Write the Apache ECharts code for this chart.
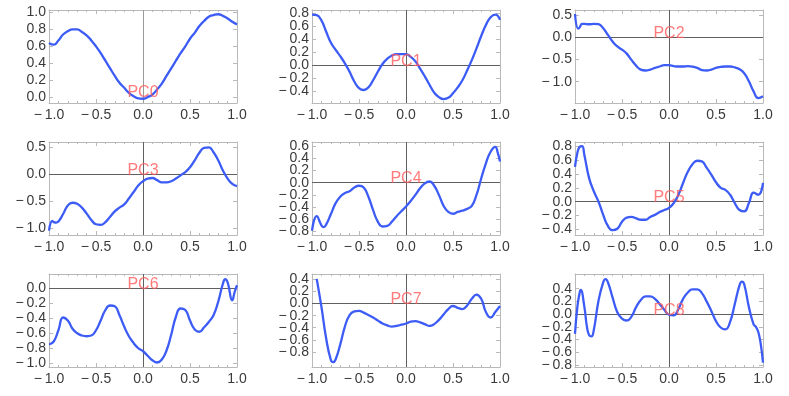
<!DOCTYPE html>
<html>
<head>
<meta charset="utf-8">
<script src="https://cdn.jsdelivr.net/npm/echarts@6/dist/echarts.min.js"></script>
<style>
html,body{margin:0;padding:0;background:#fff;}
#main{width:789px;height:396px;}
</style>
</head>
<body>
<div id="main"></div>
<script>
// x samples shared by all panels
var xs = [-1,-0.95,-0.9,-0.85,-0.8,-0.75,-0.7,-0.65,-0.6,-0.55,-0.5,-0.45,-0.4,-0.35,-0.3,-0.25,-0.2,-0.15,-0.1,-0.05,
  0,0.05,0.1,0.15,0.2,0.25,0.3,0.35,0.4,0.45,0.5,0.55,0.6,0.65,0.7,0.75,0.8,0.85,0.9,0.95,1]

var pc0 = [0.64,0.62,0.67,0.74,0.78,0.80,0.80,0.77,0.73,0.67,0.60,0.52,0.43,0.34,0.25,0.17,0.11,0.05,0.01,-0.015,
  -0.02,0.00,0.03,0.09,0.16,0.25,0.34,0.43,0.52,0.60,0.69,0.76,0.84,0.90,0.95,0.97,0.98,0.96,0.93,0.89,0.86]
var pc1 = [0.78,0.77,0.69,0.52,0.35,0.24,0.14,0.03,-0.10,-0.25,-0.35,-0.38,-0.34,-0.23,-0.10,0.02,0.10,0.15,0.17,0.17,
  0.17,0.13,0.06,-0.05,-0.17,-0.30,-0.42,-0.49,-0.52,-0.50,-0.43,-0.34,-0.23,-0.08,0.08,0.26,0.45,0.62,0.74,0.78,0.70]
var pc2 = [0.52,0.22,0.30,0.29,0.30,0.29,0.20,0.05,-0.10,-0.21,-0.28,-0.37,-0.51,-0.64,-0.73,-0.75,-0.73,-0.69,-0.66,-0.63,
  -0.63,-0.65,-0.66,-0.66,-0.65,-0.66,-0.69,-0.74,-0.75,-0.73,-0.69,-0.67,-0.66,-0.66,-0.68,-0.72,-0.81,-0.99,-1.22,-1.37,-1.33]
var pc3 = [-1.05,-0.89,-0.88,-0.74,-0.58,-0.53,-0.55,-0.62,-0.73,-0.85,-0.93,-0.94,-0.89,-0.79,-0.69,-0.62,-0.56,-0.45,-0.33,-0.21,
  -0.13,-0.08,-0.07,-0.11,-0.15,-0.15,-0.13,-0.08,-0.02,0.04,0.13,0.26,0.40,0.49,0.50,0.41,0.26,0.07,-0.08,-0.18,-0.22]
var pc4 = [-0.79,-0.55,-0.70,-0.69,-0.52,-0.34,-0.23,-0.17,-0.14,-0.08,-0.05,-0.08,-0.23,-0.45,-0.64,-0.72,-0.71,-0.64,-0.55,-0.47,
  -0.39,-0.30,-0.20,-0.09,-0.01,0.02,-0.05,-0.20,-0.38,-0.48,-0.51,-0.48,-0.46,-0.43,-0.38,-0.20,0.07,0.32,0.51,0.59,0.35]
var pc5 = [0.50,0.79,0.67,0.34,0.15,0.00,-0.19,-0.35,-0.41,-0.39,-0.29,-0.23,-0.22,-0.24,-0.26,-0.26,-0.22,-0.19,-0.15,-0.12,
  -0.09,-0.02,0.10,0.27,0.43,0.54,0.59,0.58,0.49,0.39,0.28,0.20,0.17,0.10,-0.02,-0.12,-0.14,-0.02,0.13,0.10,0.27]
var pc6 = [-0.75,-0.71,-0.56,-0.39,-0.43,-0.54,-0.60,-0.63,-0.64,-0.63,-0.56,-0.43,-0.29,-0.23,-0.24,-0.36,-0.51,-0.64,-0.73,-0.80,
  -0.84,-0.90,-0.96,-0.99,-0.95,-0.83,-0.62,-0.38,-0.27,-0.29,-0.43,-0.55,-0.58,-0.52,-0.45,-0.36,-0.18,0.06,0.08,-0.16,0.04]
var pc7 = [null,0.41,-0.05,-0.57,-0.93,-0.93,-0.68,-0.38,-0.19,-0.13,-0.12,-0.15,-0.19,-0.23,-0.28,-0.33,-0.36,-0.38,-0.37,-0.35,
  -0.33,-0.30,-0.29,-0.31,-0.34,-0.37,-0.34,-0.27,-0.18,-0.09,-0.04,-0.07,-0.09,-0.03,0.08,0.15,0.08,-0.14,-0.23,-0.14,-0.04]
var pc8 = [-0.31,0.34,0.11,-0.33,-0.25,0.21,0.50,0.50,0.26,0.03,-0.07,-0.10,-0.04,0.11,0.22,0.28,0.28,0.24,0.16,0.07,
  -0.01,-0.02,0.08,0.24,0.34,0.39,0.39,0.33,0.20,0.05,-0.11,-0.21,-0.24,-0.12,0.16,0.45,0.47,0.11,-0.16,-0.28,-0.76]

// extra samples where the curve bends sharply
var pc2Extra = [[-0.965,0.19],[-0.925,0.30]]
var pc3Extra = [[-0.965,-0.87],[-0.925,-0.90]]
var pc4Extra = [[-0.875,-0.73],[0.975,0.50]]
var pc5Extra = [[-0.975,0.70],[-0.925,0.80]]
var pc6Extra = [[0.875,0.12],[0.975,-0.05]]
var pc7Extra = [[-0.775,-0.97]]
var pc8Extra = [[-0.975,0.11],[-0.94,0.38],[-0.875,-0.18],[-0.825,-0.35],[-0.675,0.55],[0.775,0.51],[0.925,-0.20],[0.975,-0.46]]

var curves = [pc0,pc1,pc2,pc3,pc4,pc5,pc6,pc7,pc8]
var extras = [[],[],pc2Extra,pc3Extra,pc4Extra,pc5Extra,pc6Extra,pc7Extra,pc8Extra]
var names = ['PC0','PC1','PC2','PC3','PC4','PC5','PC6','PC7','PC8']

var yMin = [-0.07,-0.58,-1.48,-1.13,-0.86,-0.48,-1.05,-1.05,-0.83]
var yMax = [1.03,0.85,0.61,0.60,0.67,0.86,0.19,0.49,0.63]
var yTicks = [
  [0,0.2,0.4,0.6,0.8,1.0],
  [-0.4,-0.2,0,0.2,0.4,0.6,0.8],
  [-1.0,-0.5,0,0.5],
  [-1.0,-0.5,0,0.5],
  [-0.8,-0.6,-0.4,-0.2,0,0.2,0.4,0.6],
  [-0.4,-0.2,0,0.2,0.4,0.6,0.8],
  [-1.0,-0.8,-0.6,-0.4,-0.2,0],
  [-0.8,-0.6,-0.4,-0.2,0,0.2,0.4],
  [-0.8,-0.6,-0.4,-0.2,0,0.2,0.4]
]

function fmt(v){
  var s = Math.abs(v).toFixed(1)
  return v < -1e-9 ? '\u2212\u2009' + s : s
}

function points(i){
  var pts = []
  for (var k = 0; k < xs.length; k++) {
    if (curves[i][k] !== null) pts.push([xs[k], curves[i][k]])
  }
  pts = pts.concat(extras[i])
  pts.sort(function(a,b){ return a[0]-b[0] })
  return pts
}

// every other tick value, so crowded labels are split over two axes
function every2(arr, start){
  return arr.filter(function(v, k){ return k % 2 === start })
}

var frameColor = '#b9b9b9'
var labelStyle = {fontSize:14, color:'#3a3a3a', fontFamily:'Liberation Sans'}

var option = {animation:false, grid:[], xAxis:[], yAxis:[], series:[]}

for (var i = 0; i < 9; i++) {
  var r = Math.floor(i/3), c = i % 3
  option.grid.push({left:49+263*c, top:10+132*r, width:188, height:93})

  ;['bottom','top'].forEach(function(pos){
    option.xAxis.push({
      type:'value', gridIndex:i, position:pos, min:-1, max:1, interval:0.5,
      axisLine:{onZero:false, lineStyle:{color:frameColor}},
      axisTick:{inside:true, length:4, lineStyle:{color:frameColor}},
      minorTick:{show:true, splitNumber:5, length:2, lineStyle:{color:frameColor}},
      splitLine:{show:false},
      axisLabel:Object.assign({show:pos==='bottom', margin:5, formatter:fmt, showMinLabel:true, showMaxLabel:true}, labelStyle)
    })
  })
  // left (frame + even labels), right (frame), left again (odd labels only)
  ;[['left',0],['right',-1],['left',1]].forEach(function(p){
    var pos = p[0], part = p[1]
    option.yAxis.push({
      type:'value', gridIndex:i, position:pos, min:yMin[i], max:yMax[i],
      axisLine:{show:part !== 1, onZero:false, lineStyle:{color:frameColor}},
      axisTick:{show:part !== 1, inside:true, length:4, customValues:yTicks[i], lineStyle:{color:frameColor}},
      splitLine:{show:false},
      axisLabel:Object.assign({show:part >= 0, margin:3, customValues:every2(yTicks[i], Math.max(part,0)), formatter:fmt,
        showMinLabel:true, showMaxLabel:true}, labelStyle)
    })
  })

  var zero = [{xAxis:0}]
  if (i > 0) zero.push({yAxis:0})

  option.series.push({
    type:'line', xAxisIndex:2*i, yAxisIndex:3*i, data:points(i), z:2,
    smooth:true, showSymbol:false, clip:true,
    lineStyle:{color:'#3d5cf6', width:2.3},
    markLine:{silent:true, symbol:'none', z:1, label:{show:false},
      lineStyle:{color: i === 0 ? '#9a9a9a' : '#606060', width:1, type:'solid'},
      data:zero}
  })
  option.series.push({
    type:'scatter', xAxisIndex:2*i, yAxisIndex:3*i, data:[[0,0]], z:3, silent:true,
    symbolSize:1, itemStyle:{color:'rgba(0,0,0,0)'},
    label:{show:true, position:'inside', formatter:names[i], offset:[0,-4],
      color:'#ff5a5a', fontSize:16, fontFamily:'Liberation Sans'}
  })
}

var chart = echarts.init(document.getElementById('main'))
option && chart.setOption(option)
</script>
</body>
</html>
